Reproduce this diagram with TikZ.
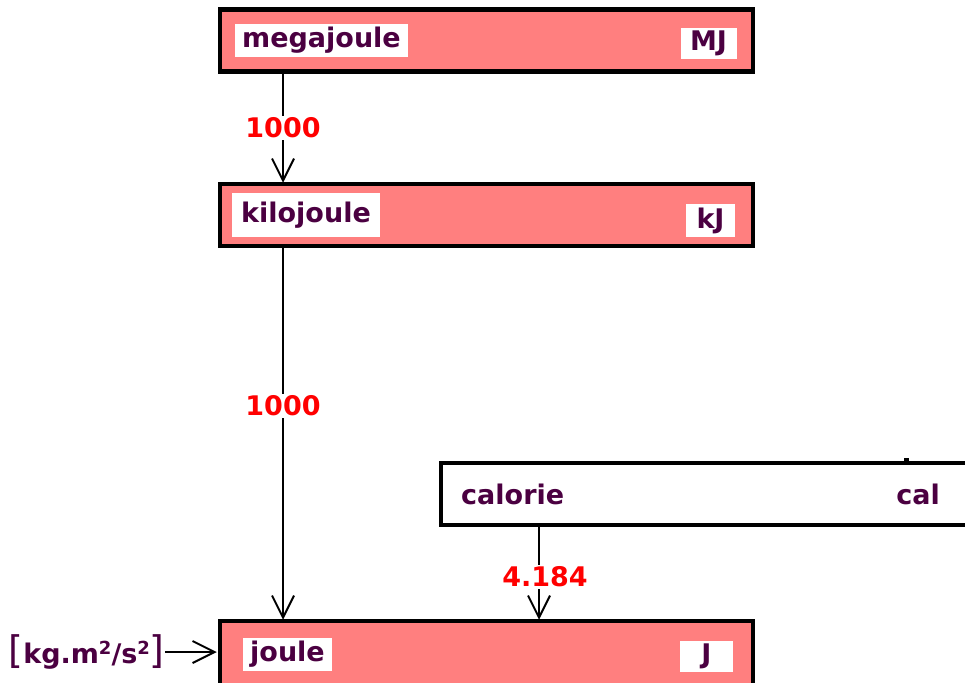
\documentclass[tikz,border=0pt]{standalone}
\usepackage{fontspec}
\setmainfont{DejaVu Sans}
\usetikzlibrary{arrows.meta}
\definecolor{boxpink}{RGB}{255,127,127}
\definecolor{txtpurple}{RGB}{75,0,65}
\newcommand\lblfont{\bfseries\fontsize{27}{31}\selectfont}
\newcommand\sqsup{\raisebox{9pt}{\fontsize{18}{18}\selectfont 2}}
\newcommand\bigbrk[1]{{\mdseries\fontsize{38}{38}\selectfont#1}}
\tikzset{
	unitbox/.style={draw=black, line width=4.5pt, fill=boxpink, minimum width=533pt, minimum height=62pt, inner sep=0pt},
	namebox/.style={fill=white, anchor=west, inner xsep=7pt, minimum height=33pt, text=txtpurple, font=\lblfont},
	symbox/.style={fill=white, minimum width=56pt, minimum height=31pt, text=txtpurple, font=\lblfont},
	factor/.style={fill=white, text=red, inner sep=2pt, font=\lblfont},
	conv/.style={line width=2pt, -{Straight Barb[length=22pt,width=22pt]}}
}
\begin{document}
\begin{tikzpicture}[x=1pt,y=-1pt]
		\useasboundingbox (0,0) rectangle (965,682);
		\clip (0,0) rectangle (965,682);
		% unit boxes
		\node[unitbox] (mj) at (486.5,40.5) {};
		\node[namebox] (mjname) at (235,40.5) {megajoule};
		\node[symbox] (mjsym) at (708.5,43.5) {MJ};
		\node[unitbox] (kj) at (486.5,215) {};
		\node[namebox, minimum height=44pt, inner xsep=9pt] (kjname) at (232,215) {kilojoule};
		\node[symbox, minimum width=49pt, minimum height=29pt] (kjsym) at (710.5,220.5) {kJ};
		\node[unitbox, fill=white, minimum width=560pt] (cal) at (721,494) {};
		\node[namebox, fill=none] (calname) at (454,494) {calorie};
		\node[symbox, fill=none] (calsym) at (918,494) {cal};
		\node[unitbox, minimum height=72pt] (jl) at (486.5,657) {};
		\node[namebox, minimum height=33pt] (jlname) at (243,654.5) {joule};
		\node[symbox, minimum width=53pt] (jlsym) at (706.5,656.5) {J};
		\node[anchor=east, inner sep=0pt, text=txtpurple, font=\lblfont] (si) at (165,652)
			{\bigbrk{[}kg.m\sqsup/s\sqsup\bigbrk{]}};
		% connectors
		\coordinate (a1) at (283,0);
		\coordinate (a3) at (539,0);
		\coordinate (calstub) at (906,458);
		\draw[conv] (mj.south -| a1) -- ([yshift=-1pt]kj.north -| a1);
		\draw[conv] (kj.south -| a1) -- ([yshift=-1pt]jl.north -| a1);
		\draw[conv] (cal.south -| a3) -- ([yshift=-1pt]jl.north -| a3);
		\draw[conv] (si.east) -- ([xshift=-1pt]jl.west |- si.east);
		\draw[line width=5pt] (calstub) -- (cal.north -| calstub);
		% factors
		\node[factor] (f1) at (283,128) {1000};
		\node[factor] (f2) at (283,406) {1000};
		\node[factor] (f3) at (545,577) {4.184};
\end{tikzpicture}
\end{document}
